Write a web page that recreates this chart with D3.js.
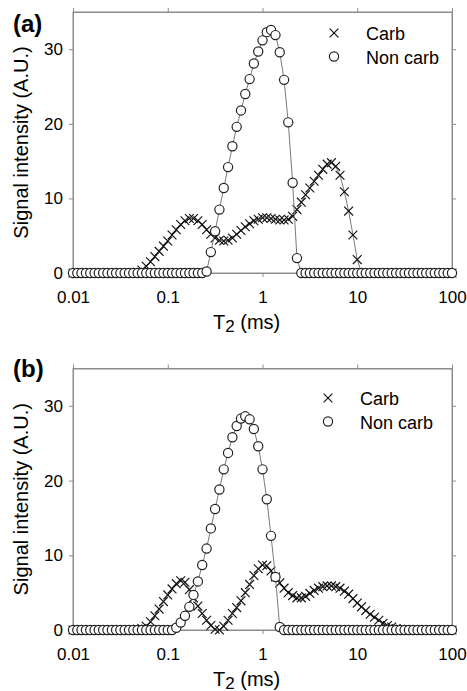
<!DOCTYPE html>
<html>
<head>
<meta charset="utf-8" />
<title>T2 distributions</title>
<script src="https://d3js.org/d3.v7.min.js"></script>
<style>
    body { margin: 0; background: #fff; }
    svg text { font-family: "Liberation Sans", Arial, sans-serif; fill: #000; }
</style>
</head>
<body>
<div id="chart"></div>
<script>
    // T2 grid (ms), log spaced, 22 points per decade
    const t2 = [
        0.0100, 0.0111, 0.0123, 0.0137, 0.0152, 0.0169, 0.0187, 0.0208, 0.0231, 0.0257, 0.0285,
        0.0316, 0.0351, 0.0390, 0.0433, 0.0481, 0.0534, 0.0593, 0.0658, 0.0731, 0.0811, 0.0901,
        0.100, 0.111, 0.123, 0.137, 0.152, 0.169, 0.187, 0.208, 0.231, 0.257, 0.285,
        0.316, 0.351, 0.390, 0.433, 0.481, 0.534, 0.593, 0.658, 0.731, 0.811, 0.901,
        1.00, 1.11, 1.23, 1.37, 1.52, 1.69, 1.87, 2.08, 2.31, 2.57, 2.85,
        3.16, 3.51, 3.90, 4.33, 4.81, 5.34, 5.93, 6.58, 7.31, 8.11, 9.01,
        10.0, 11.1, 12.3, 13.7, 15.2, 16.9, 18.7, 20.8, 23.1, 25.7, 28.5,
        31.6, 35.1, 39.0, 43.3, 48.1, 53.4, 59.3, 65.8, 73.1, 81.1, 90.1,
        100
    ];

    // panel (a)
    const carbA = [
        0, 0, 0, 0, 0, 0, 0, 0, 0, 0, 0,
        0, 0, 0, 0, 0.1, 0.4, 0.9, 1.5, 2.2, 2.9, 3.6,
        4.3, 5.1, 5.8, 6.5, 7.0, 7.3, 7.3, 7.0, 6.5, 5.8, 5.2,
        4.7, 4.4, 4.3, 4.4, 4.7, 5.2, 5.7, 6.2, 6.6, 7.0, 7.2,
        7.4, 7.4, 7.3, 7.2, 7.1, 7.1, 7.2, 7.6, 8.5, 9.5, 10.5,
        11.4, 12.3, 13.1, 13.9, 14.6, 14.8, 14.3, 13.1, 10.9, 8.3, 5.1,
        1.8, 0, 0, 0, 0, 0, 0, 0, 0, 0, 0,
        0, 0, 0, 0, 0, 0, 0, 0, 0, 0, 0,
        0
    ];
    const nonCarbA = [
        0, 0, 0, 0, 0, 0, 0, 0, 0, 0, 0,
        0, 0, 0, 0, 0, 0, 0, 0, 0, 0, 0,
        0, 0, 0, 0, 0, 0, 0, 0, 0, 0.2, 2.8,
        5.6, 8.5, 11.4, 14.2, 17.0, 19.6, 21.8, 24.0, 26.0, 28.1, 29.7,
        31.2, 32.3, 32.6, 31.9, 29.6, 25.9, 20.2, 12.1, 2.0, 0, 0,
        0, 0, 0, 0, 0, 0, 0, 0, 0, 0, 0,
        0, 0, 0, 0, 0, 0, 0, 0, 0, 0, 0,
        0, 0, 0, 0, 0, 0, 0, 0, 0, 0, 0,
        0
    ];

    // panel (b)
    const carbB = [
        0, 0, 0, 0, 0, 0, 0, 0, 0, 0, 0,
        0, 0, 0, 0, 0.1, 0.2, 0.5, 1.1, 1.9, 2.8, 3.8,
        4.7, 5.5, 6.2, 6.6, 6.4, 5.4, 4.3, 3.2, 2.2, 1.3, 0.6,
        0.1, 0.0, 0.5, 1.3, 2.2, 3.0, 3.9, 5.0, 6.1, 7.3, 8.2,
        8.7, 8.6, 7.9, 7.1, 6.3, 5.6, 5.0, 4.6, 4.3, 4.3, 4.5,
        4.9, 5.3, 5.6, 5.8, 5.9, 5.9, 5.8, 5.6, 5.2, 4.8, 4.2,
        3.6, 3.1, 2.6, 2.1, 1.7, 1.3, 0.9, 0.6, 0.4, 0.2, 0.1,
        0, 0, 0, 0, 0, 0, 0, 0, 0, 0, 0,
        0
    ];
    const nonCarbB = [
        0, 0, 0, 0, 0, 0, 0, 0, 0, 0, 0,
        0, 0, 0, 0, 0, 0, 0, 0, 0, 0, 0,
        0, 0, 0.3, 1.0, 1.9, 3.1, 4.7, 6.5, 8.7, 10.9, 13.6,
        16.2, 18.8, 21.5, 23.7, 25.8, 27.3, 28.3, 28.6, 28.2, 26.9, 24.6,
        21.5, 17.5, 12.6, 7.1, 0.4, 0, 0, 0, 0, 0, 0,
        0, 0, 0, 0, 0, 0, 0, 0, 0, 0, 0,
        0, 0, 0, 0, 0, 0, 0, 0, 0, 0, 0,
        0, 0, 0, 0, 0, 0, 0, 0, 0, 0, 0,
        0
    ];

    const xTicks = [0.01, 0.1, 1, 10, 100];
    const xTickLabels = ["0.01", "0.1", "1", "10", "100"];
    const yTicks = [0, 10, 20, 30];
    const legendNames = ["Carb", "Non carb"];

    const W = 467, H = 691;
    const left = 73, right = 452;
    const frameColor = "#8c8c8c";

    const svg = d3.select("#chart")
        .append("svg")
        .attr("width", W)
        .attr("height", H);

    svg.append("rect").attr("width", W).attr("height", H).attr("fill", "#fff");

    const x = d3.scaleLog().domain([0.01, 100]).range([left, right]);

    const crossPath = "M-4.4,-4.4L4.4,4.4M-4.4,4.4L4.4,-4.4";
    const circleR = 4.6;

    function styleAxis(g) {
        g.attr("font-family", null).attr("font-size", null);
        g.selectAll(".domain").attr("stroke", frameColor);
        g.selectAll(".tick line").attr("stroke", frameColor);
        g.selectAll(".tick text").attr("fill", "#000").style("font-size", "17px");
    }

    function drawPanel(p) {
        const y = d3.scaleLinear().domain([0, 35]).range([p.bottom, p.top]);
        const g = svg.append("g");

        // box
        g.append("rect")
            .attr("x", left).attr("y", p.top)
            .attr("width", right - left).attr("height", p.bottom - p.top)
            .attr("fill", "none").attr("stroke", frameColor);

        g.append("g")
            .attr("transform", `translate(0,${p.bottom})`)
            .call(d3.axisBottom(x).tickValues(xTicks).tickFormat((d, i) => xTickLabels[i])
                .tickSize(4).tickPadding(14).tickSizeOuter(0))
            .call(styleAxis);
        g.append("g")
            .attr("transform", `translate(0,${p.top})`)
            .call(d3.axisTop(x).tickValues(xTicks).tickFormat("").tickSize(4).tickSizeOuter(0))
            .call(styleAxis);
        g.append("g")
            .attr("transform", `translate(${left},0)`)
            .call(d3.axisLeft(y).tickValues(yTicks).tickSize(4).tickPadding(6).tickSizeOuter(0))
            .call(styleAxis);
        g.append("g")
            .attr("transform", `translate(${right},0)`)
            .call(d3.axisRight(y).tickValues(yTicks).tickFormat("").tickSize(4).tickSizeOuter(0))
            .call(styleAxis);

        const line = d3.line().x(d => x(d[0])).y(d => y(d[1]));
        const carb = t2.map((t, i) => [t, p.carb[i]]);
        const nonCarb = t2.map((t, i) => [t, p.nonCarb[i]]);

        // Carb: line + crosses
        g.append("path").datum(carb)
            .attr("d", line).attr("fill", "none")
            .attr("stroke", "#7a7a7a").attr("stroke-width", 1);
        g.append("g").selectAll("path")
            .data(carb)
            .join("path")
            .attr("transform", d => `translate(${x(d[0])},${y(d[1])})`)
            .attr("d", crossPath)
            .attr("fill", "none").attr("stroke", "#111").attr("stroke-width", 1.15);

        // Non carb: line + open circles
        g.append("path").datum(nonCarb)
            .attr("d", line).attr("fill", "none")
            .attr("stroke", "#7a7a7a").attr("stroke-width", 1);
        g.append("g").selectAll("circle")
            .data(nonCarb)
            .join("circle")
            .attr("cx", d => x(d[0])).attr("cy", d => y(d[1]))
            .attr("r", circleR)
            .attr("fill", "#fff").attr("stroke", "#222").attr("stroke-width", 1.2);

        // legend
        g.append("path")
            .attr("transform", `translate(${p.legX},${p.legY})`)
            .attr("d", crossPath)
            .attr("fill", "none").attr("stroke", "#111").attr("stroke-width", 1.15);
        g.append("circle")
            .attr("cx", p.legX).attr("cy", p.legY + 23.5).attr("r", circleR)
            .attr("fill", "#fff").attr("stroke", "#222").attr("stroke-width", 1.2);
        legendNames.forEach((name, i) => {
            g.append("text")
                .attr("x", p.legX + 32).attr("y", p.legY + 7 + i * 23.5)
                .style("font-size", "18px")
                .text(name);
        });

        // panel letter
        g.append("text")
            .attr("x", 13).attr("y", p.labelY)
            .style("font-size", "24px").style("font-weight", "bold")
            .text(p.label);

        // y title
        g.append("text")
            .attr("transform", `translate(21,${(p.top + p.bottom) / 2}) rotate(-90)`)
            .attr("text-anchor", "middle").attr("dy", "0.35em")
            .style("font-size", "20px")
            .text("Signal intensity (A.U.)");

        // x title
        const xt = g.append("text")
            .attr("x", 213).attr("y", p.bottom + 55.5)
            .style("font-size", "20px");
        xt.append("tspan").text("T");
        xt.append("tspan").attr("dy", 3).style("font-size", "17px").text("2");
        xt.append("tspan").attr("dy", -3).text(" (ms)");
    }

    drawPanel({ top: 12, bottom: 273, carb: carbA, nonCarb: nonCarbA, label: "(a)", labelY: 31.5, legX: 334, legY: 33 });
    drawPanel({ top: 368.5, bottom: 630, carb: carbB, nonCarb: nonCarbB, label: "(b)", labelY: 377, legX: 328, legY: 398 });
</script>
</body>
</html>
